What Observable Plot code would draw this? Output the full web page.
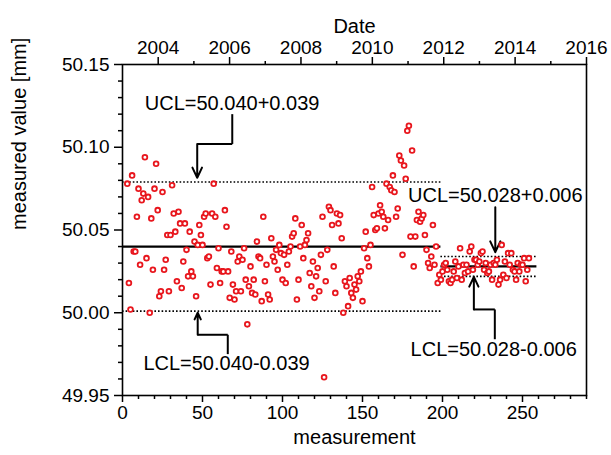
<!DOCTYPE html>
<html>
<head>
<meta charset="utf-8">
<script src="https://cdn.jsdelivr.net/npm/d3@7"></script>
<script src="https://cdn.jsdelivr.net/npm/@observablehq/plot@0.6"></script>
<style>
  html, body { margin: 0; padding: 0; background: #fff; }
  #chart svg { display: block; }
</style>
</head>
<body>
<div id="chart"></div>
<script>
// ---------- data ----------
const firstMeasurement = 3;
const values = [
  50.078, 50.018, 50.002, 50.083, 50.037, 50.037, 50.058, 50.075, 50.029, 50.068,
  50.072, 50.094, 50.033, 50.070, 50.000, 50.057, 50.026, 50.075, 50.090, 50.062,
  50.010, 50.013, 50.073, 50.026, 50.032, 50.047, 50.013, 50.047, 50.077, 50.060,
  50.049, 50.019, 50.061, 50.054, 50.015, 50.031, 50.054, 50.038, 50.022, 50.049,
  50.025, 50.022, 50.043, 50.010, 50.041, 50.053, 50.047, 50.041, 50.058, 50.060,
  50.033, 50.034, 50.017, 50.060, 50.078, 50.058, 50.027, 50.039, 50.018, 50.025,
  50.025, 50.062, 50.052, 50.025, 50.009, 50.037, 50.017, 50.008, 50.013, 50.031,
  50.034, 50.013, 50.032, 50.039, 50.020, 49.993, 50.016, 50.028, 50.012, 50.020,
  50.011, 50.043, 50.034, 50.033, 50.007, 50.058, 50.019, 50.029, 50.011, 50.008,
  50.045, 50.034, 50.031, 50.038, 50.026, 50.041, 50.036, 50.020, 50.035, 50.018,
  50.029, 50.037, 50.040, 50.046, 50.048, 50.057, 50.008, 50.020, 50.040, 50.053,
  50.033, 50.041, 50.044, 50.048, 50.024, 50.016, 50.031, 50.009, 50.022, 50.027,
  50.013, 50.035, 50.058, 49.961, 50.019, 50.038, 50.064, 50.062, 50.053, 50.028,
  50.012, 50.060, 50.054, 50.059, 50.045, 50.000, 50.019, 50.016, 50.004, 50.021,
  50.012, 50.009, 50.017, 50.014, 50.022, 50.019, 50.025, 50.007, 50.039, 50.049,
  50.033, 50.028, 50.041, 50.076, 50.059, 50.050, 50.051, 50.060, 50.065, 50.061,
  50.058, 50.051, 50.078, 50.056, 50.076, 50.074, 50.083, 50.073, 50.058, 50.063,
  50.095, 50.092, 50.035, 50.089, 50.081, 50.110, 50.113, 50.046, 50.098, 50.028,
  50.046, 50.056, 50.061, 50.055, 50.057, 50.059, 50.047, 50.038, 50.030, 50.027,
  50.034, 50.053, 50.029, 50.040,
  // second period
  50.018, 50.023, 50.020, 50.025, 50.029, 50.030, 50.026, 50.019, 50.018, 50.020,
  50.025, 50.031, 50.021, 50.028, 50.039, 50.020, 50.029, 50.024, 50.029, 50.025,
  50.037, 50.040, 50.026, 50.032, 50.032, 50.029, 50.031, 50.036, 50.037, 50.026,
  50.030, 50.024, 50.025, 50.029, 50.020, 50.030, 50.029, 50.032, 50.017, 50.020,
  50.041, 50.023, 50.031, 50.021, 50.036, 50.029, 50.036, 50.026, 50.025, 50.020,
  50.030, 50.025, 50.029, 50.029, 50.033, 50.019, 50.026, 50.033
];

// control limits per period
const periodStart = [0, 199];
const periodEnd = [199, 259];
const centerLine = [50.040, 50.028];
const limitWidth = [0.039, 0.006];

// axes
const xDomain = [0, 290];
const yDomain = [49.95, 50.15];
const dateDomain = [2003, 2016];
const xMajor = [0, 50, 100, 150, 200, 250];
const yMajor = [49.95, 50.00, 50.05, 50.10, 50.15];
const yearMajor = [2004, 2006, 2008, 2010, 2012, 2014, 2016];

// annotations
const annLabels = ["UCL=50.040+0.039", "LCL=50.040-0.039", "UCL=50.028+0.006", "LCL=50.028-0.006"];
const annX = [68.5, 65, 233, 232];
const annY = [50.1265, 49.969, 50.071, 49.978];
// leader polylines (measurement, value); last segment carries the arrow head
const leaderX = [[68.6, 68.6, 46.7, 46.7], [65.8, 65.8, 47, 47], [233, 233], [232.7, 232.7, 219.6, 219.6]];
const leaderY = [[50.120, 50.102, 50.102, 50.0815], [49.975, 49.9867, 49.9867, 50.0], [50.0638, 50.0366], [49.984, 50.002, 50.002, 50.0217]];

// ---------- derived tables ----------
const points = values.map((v, i) => ({m: firstMeasurement + i, v}));
const centers = centerLine.map((c, i) => ({x1: periodStart[i], x2: periodEnd[i], y: c}));
const limits = centerLine.flatMap((c, i) => [
  {x1: periodStart[i], x2: periodEnd[i], y: c + limitWidth[i]},
  {x1: periodStart[i], x2: periodEnd[i], y: c - limitWidth[i]}
]);
const ann = annLabels.map((t, i) => ({t, x: annX[i], y: annY[i]}));
const leaderSegs = [];
const arrowSegs = [];
leaderX.forEach((xs, k) => {
  for (let j = 0; j < xs.length - 1; j++) {
    const seg = {x1: xs[j], y1: leaderY[k][j], x2: xs[j + 1], y2: leaderY[k][j + 1]};
    (j === xs.length - 2 ? arrowSegs : leaderSegs).push(seg);
  }
});
const yearToX = yr => (yr - dateDomain[0]) / (dateDomain[1] - dateDomain[0]) * xDomain[1];
const xToYear = x => String(Math.round(dateDomain[0] + x / xDomain[1] * (dateDomain[1] - dateDomain[0])));
const xMinor = d3.range(0, 291, 10).filter(d => !xMajor.includes(d));
const yMinor = d3.range(0, 21).map(i => +(49.95 + i * 0.01).toFixed(2)).filter(d => !yMajor.some(m => Math.abs(m - d) < 1e-9));
const yearMinor = d3.range(2004, 2017).filter(y => !yearMajor.includes(y));

const FONT = 19;
const red = "#e8161d";

const chart = Plot.plot({
  width: 611,
  height: 455,
  marginLeft: 122,
  marginRight: 25,
  marginTop: 64,
  marginBottom: 60,
  style: {fontFamily: "'Liberation Sans', Arial, Helvetica, sans-serif", color: "#000", background: "#fff"},
  x: {domain: xDomain},
  y: {domain: yDomain},
  marks: [
    // axes
    Plot.axisY({ticks: yMajor, tickFormat: d => d.toFixed(2), tickSize: 8, tickPadding: 5, fontSize: FONT, label: null, strokeWidth: 1.5}),
    Plot.axisY({ticks: yMinor, tickFormat: () => "", tickSize: 4, label: null, strokeWidth: 1.5}),
    Plot.axisX({ticks: xMajor, tickFormat: d => String(d), tickSize: 7, tickPadding: 3, fontSize: FONT, label: null, strokeWidth: 1.5}),
    Plot.axisX({ticks: xMinor, tickFormat: () => "", tickSize: 4, label: null, strokeWidth: 1.5}),
    Plot.axisX({anchor: "top", ticks: yearMajor.map(yearToX), tickFormat: xToYear, tickSize: 8, tickPadding: 3, fontSize: FONT, label: null, strokeWidth: 1.5}),
    Plot.axisX({anchor: "top", ticks: yearMinor.map(yearToX), tickFormat: () => "", tickSize: 4, label: null, strokeWidth: 1.5}),
    Plot.frame({stroke: "#000", strokeWidth: 1.6}),
    // titles
    Plot.text(["Date"], {frameAnchor: "top", dy: -46, fontSize: 20}),
    Plot.text(["measurement"], {frameAnchor: "bottom", dy: 48, fontSize: 20}),
    Plot.text(["measured value [mm]"], {frameAnchor: "left", dx: -103, rotate: -90, fontSize: 20}),
    // control lines
    Plot.ruleY(limits, {y: "y", x1: "x1", x2: "x2", stroke: "#000", strokeWidth: 1.6, strokeDasharray: "1.6,2"}),
    Plot.ruleY(centers, {y: "y", x1: "x1", x2: "x2", stroke: "#000", strokeWidth: 2.2}),
    // annotations
    Plot.link(leaderSegs, {x1: "x1", y1: "y1", x2: "x2", y2: "y2", stroke: "#000", strokeWidth: 2}),
    Plot.arrow(arrowSegs, {x1: "x1", y1: "y1", x2: "x2", y2: "y2", stroke: "#000", strokeWidth: 2, headLength: 9, headAngle: 50}),
    Plot.text(ann, {x: "x", y: "y", text: "t", fontSize: 20, fill: "#000"}),
    // measurements
    Plot.dot(points, {x: "m", y: "v", r: 2.4, stroke: red, strokeWidth: 1.8, fill: "#fff"})
  ]
});
document.getElementById("chart").appendChild(chart);
</script>
</body>
</html>
